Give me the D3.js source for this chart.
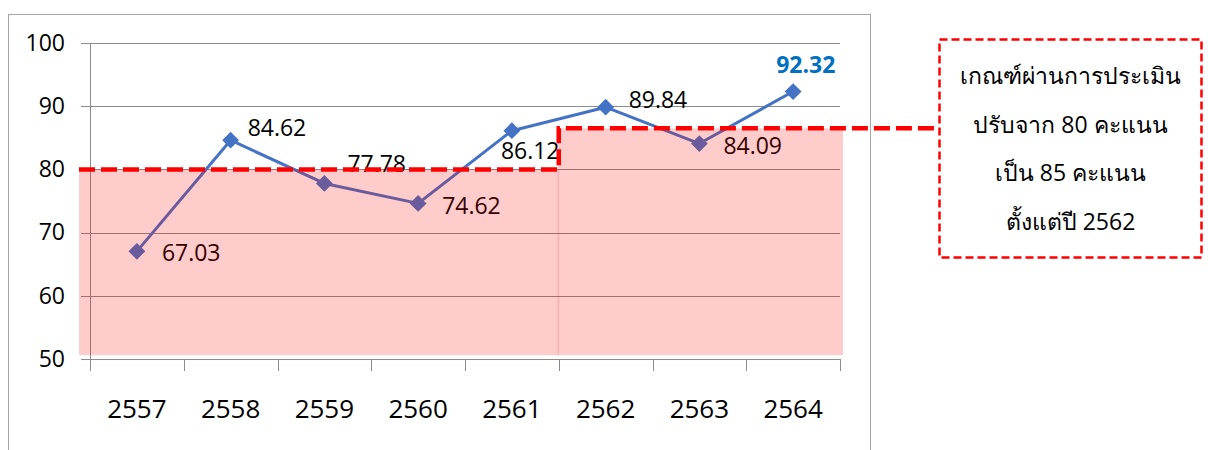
<!DOCTYPE html>
<html>
<head>
<meta charset="utf-8">
<script src="https://cdn.jsdelivr.net/npm/d3@7"></script>
<style>
  html, body { margin: 0; padding: 0; background: #fff; }
  svg { display: block; font-family: "Open Sans", "Noto Sans", "DejaVu Sans", sans-serif; }
</style>
</head>
<body>
<svg id="chart" width="1208" height="450"></svg>
<script>
// ---- data ----
const years = ["2557", "2558", "2559", "2560", "2561", "2562", "2563", "2564"];
const scores = [67.03, 84.62, 77.78, 74.62, 86.12, 89.84, 84.09, 92.32];
const yTicks = [50, 60, 70, 80, 90, 100];
const thresholdLevels = [80, 86.5];          // dashed criterion line as drawn
const thresholdStartIdx = [0, 5];            // band starts at category index
const bandBottomValue = 50.6;
const noteLines = ["เกณฑ์ผ่านการประเมิน", "ปรับจาก 80 คะแนน", "เป็น 85 คะแนน", "ตั้งแต่ปี 2562"];

// ---- layout ----
const svg = d3.select("#chart");
const plotL = 90, plotR = 840, plotT = 43, plotB = 359;

const x = d3.scaleBand().domain(years).range([plotL, plotR]);
const xi = d3.scaleLinear().domain([0, years.length]).range([plotL, plotR]);
const y = d3.scaleLinear().domain([50, 100]).range([plotB, plotT]);

// outer chart border
svg.append("rect").attr("x", 8.5).attr("y", 14.5).attr("width", 862).attr("height", 460)
  .attr("fill", "none").attr("stroke", "#a6a6a6").attr("stroke-width", 1);

// y gridlines + labels
const yAxis = svg.append("g").attr("transform", `translate(${plotR},0)`)
  .call(d3.axisLeft(y).tickValues(yTicks).tickSize(plotR - 81).tickPadding(16).tickFormat(d3.format("d")));
yAxis.select(".domain").remove();
yAxis.selectAll(".tick line").attr("stroke", "#8c8c8c").attr("shape-rendering", "crispEdges");
yAxis.selectAll(".tick text").attr("font-size", 23).attr("fill", "#000")
  .attr("font-family", "'Open Sans', sans-serif");

// y axis line
svg.append("line").attr("x1", plotL).attr("x2", plotL).attr("y1", plotT).attr("y2", plotB + 12)
  .attr("stroke", "#8c8c8c").attr("shape-rendering", "crispEdges");

// x tick marks at category boundaries
const xTicksG = svg.append("g").attr("transform", `translate(0,${plotB})`)
  .call(d3.axisBottom(xi).tickValues(d3.range(0, years.length + 1)).tickSize(12).tickFormat(""));
xTicksG.select(".domain").remove();
xTicksG.selectAll(".tick line").attr("stroke", "#8c8c8c").attr("shape-rendering", "crispEdges");

// x labels
const xLab = svg.append("g").attr("transform", `translate(0,${plotB})`)
  .call(d3.axisBottom(x).tickSize(0).tickPadding(41));
xLab.select(".domain").remove();
xLab.selectAll(".tick text").attr("font-size", 26).attr("fill", "#000")
  .attr("font-family", "'Open Sans', sans-serif");

// line
const lineColor = "#4472C4";
svg.append("path").datum(scores)
  .attr("fill", "none").attr("stroke", lineColor).attr("stroke-width", 3)
  .attr("stroke-linejoin", "round")
  .attr("d", d3.line().x((d, i) => x(years[i]) + x.bandwidth() / 2).y(d => y(d)));

// markers
svg.selectAll(".mk").data(scores).enter().append("path")
  .attr("class", "mk")
  .attr("d", d3.symbol().type(d3.symbolDiamond2).size(180))
  .attr("transform", (d, i) => `translate(${x(years[i]) + x.bandwidth() / 2},${y(d)})`)
  .attr("fill", lineColor);

// data labels
const labelDx = [25, 17, 23, 24, -11, 23, 24, -17];
const labelDy = [1, -13, -20, 2, 19, -8, 1, -28];
svg.selectAll(".lbl").data(scores).enter().append("text")
  .attr("class", "lbl")
  .attr("x", (d, i) => x(years[i]) + x.bandwidth() / 2 + labelDx[i])
  .attr("y", (d, i) => y(d) + labelDy[i])
  .attr("dominant-baseline", "central")
  .attr("font-size", 23)
  .attr("font-family", "'Open Sans', sans-serif")
  .attr("font-weight", (d, i) => i === scores.length - 1 ? "bold" : "normal")
  .attr("fill", (d, i) => i === scores.length - 1 ? "#0070C0" : "#000")
  .text(d => d3.format(".2f")(d));

// pink bands (semi-transparent, over the series)
const bandEnds = [thresholdStartIdx[1], years.length];
thresholdLevels.forEach((lv, k) => {
  const x0 = k === 0 ? xi(thresholdStartIdx[k]) - 11 : xi(thresholdStartIdx[k]) - 1;
  const x1 = k === 0 ? xi(bandEnds[k]) : xi(bandEnds[k]) + 3;
  svg.append("rect")
    .attr("x", x0).attr("y", y(lv))
    .attr("width", x1 - x0).attr("height", y(bandBottomValue) - y(lv))
    .attr("fill", "rgba(255,0,0,0.2)");
});

// dashed criterion line
const boxX = 939.5, boxY = 39.5, boxW = 262, boxH = 218;
const xStart = xi(0) - 11, xStep = xi(thresholdStartIdx[1]);
svg.append("path")
  .attr("d", `M${xStart},${y(thresholdLevels[0])}H${xStep}V${y(thresholdLevels[1])}H${boxX}`)
  .attr("fill", "none").attr("stroke", "#FF0000").attr("stroke-width", 4.5)
  .attr("stroke-dasharray", "16,6");

// note box
svg.append("rect").attr("x", boxX).attr("y", boxY).attr("width", boxW).attr("height", boxH)
  .attr("fill", "#fff").attr("stroke", "#FF0000").attr("stroke-width", 2.5)
  .attr("stroke-dasharray", "8,4");
svg.selectAll(".note").data(noteLines).enter().append("text")
  .attr("class", "note")
  .attr("x", boxX + boxW / 2)
  .attr("y", (d, i) => 75 + i * 48.5)
  .attr("text-anchor", "middle").attr("dominant-baseline", "central")
  .attr("font-size", 23).attr("fill", "#000")
  .text(d => d);
</script>
</body>
</html>
